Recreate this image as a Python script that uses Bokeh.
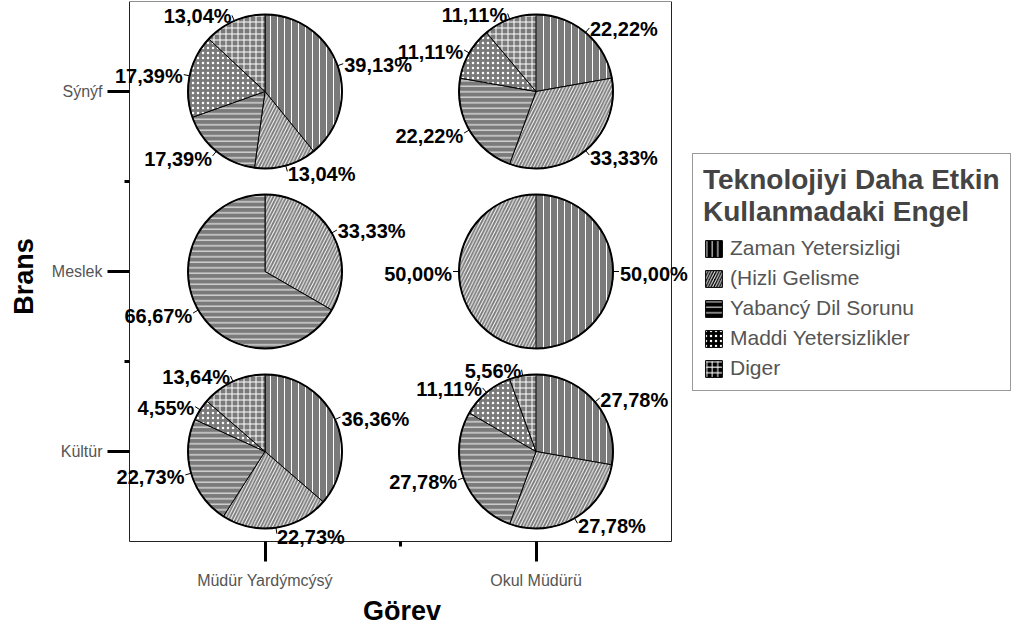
import math
from bokeh.plotting import figure
from bokeh.models import (ColumnDataSource, Range1d, FixedTicker, Label, Legend,
                          LegendItem, BoxAnnotation)
from bokeh.embed import file_html
from bokeh.resources import INLINE

# ---------------- data ----------------
categories = ["Zaman Yetersizligi", "(Hizli Gelisme", "Yabancý Dil Sorunu",
              "Maddi Yetersizlikler", "Diger"]
gorev = ["Müdür Yardýmcýsý", "Okul Müdürü"]          # x categories
brans = ["Sýnýf", "Meslek", "Kültür"]                  # y categories (top to bottom)

sinif_mudur_yrd = [39.13, 13.04, 17.39, 17.39, 13.04]
sinif_okul_mudur = [22.22, 33.33, 22.22, 11.11, 11.11]
meslek_mudur_yrd = [0.0, 33.33, 66.67, 0.0, 0.0]
meslek_okul_mudur = [50.00, 50.00, 0.0, 0.0, 0.0]
kultur_mudur_yrd = [36.36, 22.73, 22.73, 4.55, 13.64]
kultur_okul_mudur = [27.78, 27.78, 27.78, 11.11, 5.56]

panels = [
    ("Müdür Yardýmcýsý", "Sýnýf", sinif_mudur_yrd),
    ("Okul Müdürü", "Sýnýf", sinif_okul_mudur),
    ("Müdür Yardýmcýsý", "Meslek", meslek_mudur_yrd),
    ("Okul Müdürü", "Meslek", meslek_okul_mudur),
    ("Müdür Yardýmcýsý", "Kültür", kultur_mudur_yrd),
    ("Okul Müdürü", "Kültür", kultur_okul_mudur),
]

# ---------------- styles ----------------
hatch_style = {   # pattern, spacing, weight
    "Zaman Yetersizligi": ("vertical_line", 7.0, 1.0),
    "(Hizli Gelisme": ("right_diagonal_line", 6.5, 1.0),
    "Yabancý Dil Sorunu": ("horizontal_line", 5.5, 1.0),
    "Maddi Yetersizlikler": ("dot", 5.0, 0.6),
    "Diger": ("cross", 6.0, 1.0),
}
R = 77          # pie radius, screen px
LABEL_R = R + 7
LEADER_R = R + 6
LABEL_DY = -2
FONT = "Liberation Sans"

# box of the panel grid in px, and extra drawing room around it (px)
BOX_W, BOX_H = 542, 540
EXT_L, EXT_R, EXT_B = 15, 18, 10
NX, NY = len(gorev), len(brans)
px_x = BOX_W / NX
px_y = BOX_H / NY

# ---------------- build sources ----------------
w = dict(x=[], y=[], start=[], end=[], pattern=[], scale=[], weight=[])
lab = []
ray = dict(x=[], y=[], angle=[])
ctr = dict(x=[], y=[])

for g, b, vals in panels:
    cx = gorev.index(g) + 0.5
    cy = NY - brans.index(b) - 0.5
    ctr["x"].append(cx)
    ctr["y"].append(cy)
    total = sum(vals)
    cum = 0.0
    for cat, v in zip(categories, vals):
        if v <= 0:
            continue
        f0 = cum / total
        f1 = (cum + v) / total
        cum += v
        w["x"].append(cx)
        w["y"].append(cy)
        w["start"].append(math.pi / 2 - 2 * math.pi * f0)
        w["end"].append(math.pi / 2 - 2 * math.pi * f1)
        pat, sc, wt = hatch_style[cat]
        w["pattern"].append(pat)
        w["scale"].append(sc)
        w["weight"].append(wt)
        fm = (f0 + f1) / 2
        ang = math.pi / 2 - 2 * math.pi * fm
        ray["x"].append(cx)
        ray["y"].append(cy)
        ray["angle"].append(ang)
        lab.append((cx, cy, LABEL_R * math.cos(ang), LABEL_R * math.sin(ang) + LABEL_DY,
                    f"{v:.2f}".replace(".", ",") + "%",
                    "left" if math.cos(ang) >= -1e-9 else "right"))

# ---------------- figure ----------------
p = figure(
    frame_width=BOX_W + EXT_L + EXT_R, frame_height=BOX_H + EXT_B,
    x_range=Range1d(-EXT_L / px_x, NX + EXT_R / px_x),
    y_range=Range1d(-EXT_B / px_y, NY),
    output_backend="svg", toolbar_location=None,
    min_border_left=114, min_border_right=317, min_border_top=1, min_border_bottom=60,
    background_fill_color="white", border_fill_color="white",
)
p.xgrid.visible = False
p.ygrid.visible = False
p.outline_line_color = None

# visible panel box
p.add_layout(BoxAnnotation(left=0, right=NX, bottom=0, top=NY,
                           fill_alpha=0, line_color="#222222", line_alpha=1.0,
                           line_width=1, level="underlay"))

# leaders (rays hidden under pies except the part beyond the rim)
p.ray(x="x", y="y", angle="angle", length=LEADER_R, length_units="screen",
      source=ColumnDataSource(ray), line_color="black", line_width=1)

p.wedge(x="x", y="y", radius=R, radius_units="screen",
        start_angle="start", end_angle="end", direction="clock",
        source=ColumnDataSource(w),
        fill_color="#7a7a7a", line_color="black", line_width=1,
        hatch_pattern="pattern", hatch_scale="scale",
        hatch_color="white", hatch_weight="weight")

p.circle(x="x", y="y", radius=R, radius_units="screen", source=ColumnDataSource(ctr),
         fill_alpha=0, line_color="black", line_width=2)

for cx, cy, dx, dy, txt, al in lab:
    p.add_layout(Label(x=cx, y=cy, x_offset=dx, y_offset=dy, text=txt,
                       text_align=al, text_baseline="middle",
                       text_font=FONT, text_font_style="bold",
                       text_font_size="20px", text_color="black"))

# ---------------- axes ----------------
p.xaxis.ticker = FixedTicker(ticks=[i + 0.5 for i in range(NX)],
                             minor_ticks=[float(i) for i in range(1, NX)])
p.xaxis.major_label_overrides = {i + 0.5: g for i, g in enumerate(gorev)}
p.yaxis.ticker = FixedTicker(ticks=[i + 0.5 for i in range(NY)],
                             minor_ticks=[float(i) for i in range(1, NY)])
p.yaxis.major_label_overrides = {NY - i - 0.5: b for i, b in enumerate(brans)}

p.xaxis.axis_label = "Görev"
p.yaxis.axis_label = "Brans"
p.xaxis.bounds = (0, NX)
p.yaxis.bounds = (0, NY)
for ax in (p.xaxis[0], p.yaxis[0]):
    ax.axis_line_color = None
    ax.major_tick_line_color = "black"
    ax.minor_tick_line_color = "black"
    ax.major_tick_line_width = 3
    ax.minor_tick_line_width = 3
    ax.major_label_text_font = FONT
    ax.major_label_text_font_size = "16px"
    ax.major_label_text_color = "#555555"
    ax.axis_label_text_font = FONT
    ax.axis_label_text_font_size = "27px"
    ax.axis_label_text_font_style = "bold"
    ax.axis_label_text_color = "black"
# ticks start at the visible box edge (which lies EXT px inside the frame edge)
p.xaxis.major_tick_in = EXT_B
p.xaxis.major_tick_out = 20 - EXT_B
p.xaxis.minor_tick_in = EXT_B
p.xaxis.minor_tick_out = 5 - EXT_B
p.yaxis.major_tick_in = EXT_L
p.yaxis.major_tick_out = 22 - EXT_L
p.yaxis.minor_tick_in = EXT_L
p.yaxis.minor_tick_out = 5 - EXT_L
p.xaxis.major_label_standoff = 10
p.yaxis.major_label_standoff = 5
p.xaxis.axis_label_standoff = 4
p.yaxis.axis_label_standoff = 10

# ---------------- legend ----------------
items = []
for cat in categories:
    pat, sc, wt = hatch_style[cat]
    r = p.rect(x=[float("nan")], y=[float("nan")], width=1, height=1,
               fill_color="black", line_color="black",
               hatch_pattern=pat, hatch_scale=min(sc, 5.5), hatch_color="white",
               hatch_weight=wt)
    items.append(LegendItem(label=cat, renderers=[r]))

legend = Legend(items=items, location=(3, 160),
                title="Teknolojiyi Daha Etkin\nKullanmadaki Engel",
                title_text_font=FONT, title_text_font_size="28px",
                title_text_font_style="bold", title_text_color="#444444",
                title_standoff=8,
                label_text_font=FONT, label_text_font_size="21px",
                label_text_color="#555555",
                glyph_width=21, glyph_height=21, label_standoff=6, spacing=6,
                padding=10, margin=0,
                border_line_color="#333333", border_line_width=1,
                background_fill_color="white")
p.add_layout(legend, "right")

open("out.html", "w").write(file_html(p, INLINE))
